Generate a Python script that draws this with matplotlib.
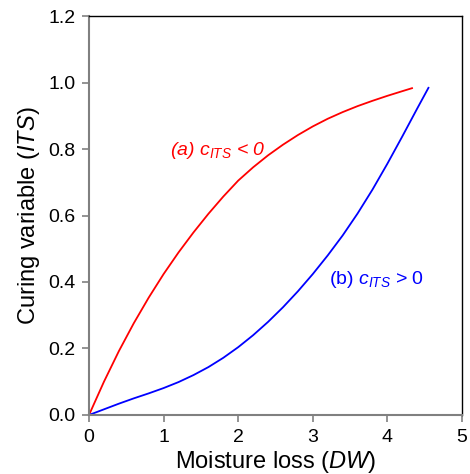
"""
Curing variable vs moisture loss: two curve shapes for c_ITS < 0 and c_ITS > 0.
"""

import matplotlib
matplotlib.use("Agg")
import matplotlib.pyplot as plt

plt.rcParams["font.family"] = ["Liberation Sans", "DejaVu Sans"]
plt.rcParams["mathtext.fontset"] = "custom"
plt.rcParams["mathtext.rm"] = "Liberation Sans"
plt.rcParams["mathtext.it"] = "Liberation Sans:italic"

# ── Data ─────────────────────────────────────────────────────────────────────

# (a) c_ITS < 0 – concave curve
dw_a  = [0.0, 0.2, 0.4, 0.6, 0.8, 1.0, 1.2, 1.4, 1.6, 1.8, 2.0, 2.2, 2.4,
         2.6, 2.8, 3.0, 3.2, 3.4, 3.6, 3.8, 4.0, 4.2, 4.33]
its_a = [0.0, 0.100, 0.192, 0.276, 0.353, 0.424, 0.489, 0.549, 0.605, 0.657,
         0.705, 0.745, 0.781, 0.813, 0.842, 0.868, 0.891, 0.911, 0.929, 0.945,
         0.960, 0.974, 0.983]

# (b) c_ITS > 0 – convex curve
dw_b  = [0.0, 0.2, 0.4, 0.6, 0.8, 1.0, 1.2, 1.4, 1.6, 1.8, 2.0, 2.2, 2.4,
         2.6, 2.8, 3.0, 3.2, 3.4, 3.6, 3.8, 4.0, 4.2, 4.4, 4.55]
its_b = [0.0, 0.017, 0.034, 0.050, 0.065, 0.081, 0.099, 0.120, 0.144, 0.172,
         0.204, 0.240, 0.280, 0.324, 0.372, 0.424, 0.480, 0.540, 0.606, 0.678,
         0.756, 0.838, 0.922, 0.984]

x_ticks = [0, 1, 2, 3, 4, 5]
y_ticks = [0.0, 0.2, 0.4, 0.6, 0.8, 1.0, 1.2]

# ── Figure ────────────────────────────────────────────────────────────────────

fig = plt.figure(figsize=(4.7, 4.74), dpi=100)
ax = fig.add_axes([0.1894, 0.1245, 0.7936, 0.8417])

ax.plot(dw_a, its_a, color="#ff0000", linewidth=1.3)
ax.plot(dw_b, its_b, color="#0000ff", linewidth=1.3)

ax.set_xlim(0, 5)
ax.set_ylim(0, 1.2)
ax.set_xticks(x_ticks)
ax.set_xticklabels([str(t) for t in x_ticks])
ax.set_yticks(y_ticks)
ax.set_yticklabels([f"{t:.1f}" for t in y_ticks])

ax.tick_params(direction="out", length=5, width=1.2, color="#808080",
               labelsize=14, pad=5)

for side in ("left", "bottom"):
    ax.spines[side].set_color("#808080")
    ax.spines[side].set_linewidth(1.5)
for side in ("top", "right"):
    ax.spines[side].set_color("black")
    ax.spines[side].set_linewidth(1.0)

ax.set_xlabel(r"Moisture loss ($\mathit{DW}$)", fontsize=17, labelpad=2)
ax.set_ylabel(r"Curing variable ($\mathit{ITS}$)", fontsize=17, labelpad=4)

ax.text(1.72, 0.797, r"(a) $c_{ITS}$ < 0", color="#ff0000", fontsize=14,
        style="italic", ha="center", va="center")
ax.text(3.85, 0.409, r"(b) $c_{ITS}$ > $\mathit{0}$", color="#0000ff", fontsize=14,
        ha="center", va="center")

fig.savefig("out.png", dpi=100)
plt.close()
